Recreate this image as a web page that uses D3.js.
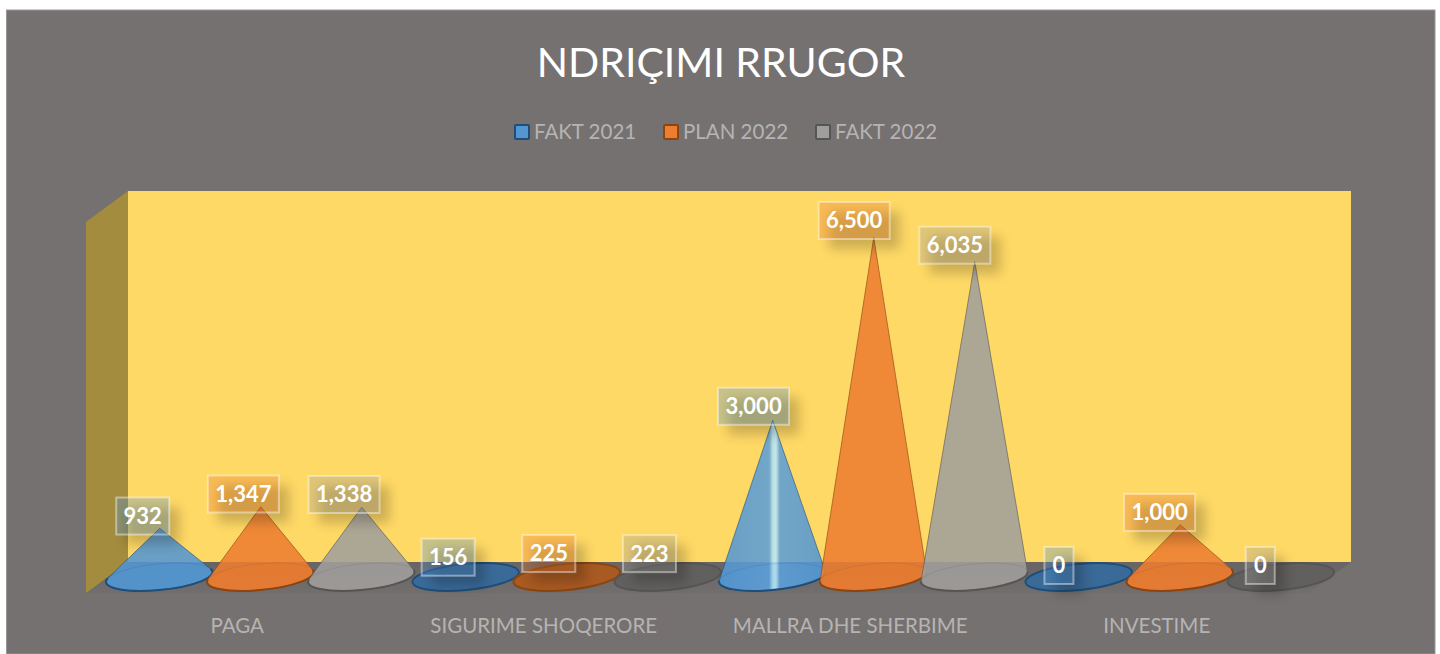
<!DOCTYPE html>
<html><head><meta charset="utf-8">
<script src="https://cdn.jsdelivr.net/npm/d3@7"></script>
<style>html,body{margin:0;background:#fff;overflow:hidden}svg{display:block}text{font-family:Lato,"Open Sans",sans-serif}</style>
</head><body><svg id="c" width="1440" height="654"></svg>
<script>
const title = "NDRIÇIMI RRUGOR";
const categories = ["PAGA","SIGURIME SHOQERORE","MALLRA DHE SHERBIME","INVESTIME"];
const seriesNames = ["FAKT 2021","PLAN 2022","FAKT 2022"];
const fakt2021 = [932,156,3000,0];
const plan2022 = [1347,225,6500,1000];
const fakt2022 = [1338,223,6035,0];
const seriesValues = [fakt2021,plan2022,fakt2022];
const fills = ["#5496D2","#ED7D31","#A09E9C"];
const strokes = ["#1F4E79","#8A4510","#555555"];
const baseFills = ["#3F7FBC","#C9651F","#73726F"];
const flatFills = ["#3A6A98","#A85A22","#62605F"];

const svg = d3.select("#c");
const defs = svg.append("defs");
const blur = defs.append("filter").attr("id","blur").attr("x","-50%").attr("y","-50%").attr("width","200%").attr("height","200%");
blur.append("feGaussianBlur").attr("stdDeviation",6);
const floorGrad = defs.append("linearGradient").attr("id","floor").attr("x1",0).attr("y1",0).attr("x2",0).attr("y2",1);
floorGrad.append("stop").attr("offset",0).attr("stop-color","#686463");
floorGrad.append("stop").attr("offset",1).attr("stop-color","#726e6d");

svg.append("rect").attr("x",6.5).attr("y",10).attr("width",1428.5).attr("height",644)
  .attr("fill","#757170").attr("stroke","#9a9796").attr("stroke-width",1);

const wall = {l:128,r:1351,t:191,b:562,dx:42,dy:31};
svg.append("polygon").attr("fill","url(#floor)")
  .attr("points",[[wall.l,wall.b],[wall.r,wall.b],[wall.r-wall.dx,wall.b+wall.dy],[wall.l-wall.dx,wall.b+wall.dy]].join(" "));
svg.append("polygon").attr("fill","#A38C3E")
  .attr("points",[[wall.l,wall.t],[wall.l,wall.b],[wall.l-wall.dx,wall.b+wall.dy],[wall.l-wall.dx,wall.t+wall.dy]].join(" "));
svg.append("rect").attr("x",wall.l).attr("y",wall.t).attr("width",wall.r-wall.l).attr("height",wall.b-wall.t).attr("fill","#FFD966");

const x0 = d3.scaleBand().domain(categories).range([107,1333]);
const x1 = d3.scaleBand().domain(seriesNames).range([0,x0.bandwidth()]).paddingOuter(0.017);
const y = d3.scaleLinear().domain([0,6500]).range([577,237.5]);
const labelBottom = d3.scaleLinear().domain([0,6500]).range([584,239]);
const labelShift = d3.scaleLinear().domain([160,1280]).range([-16.5,-20.5]);

const rx = 53.5, ry = 13, rot = -5.5, rad = rot*Math.PI/180;
const cosR = Math.cos(rad), sinR = Math.sin(rad);

const marks = [];
categories.forEach((c,ci)=>seriesNames.forEach((s,si)=>{
  marks.push({c,ci,s,si,v:seriesValues[si][ci],cx:x0(c)+x1(s)+x1.bandwidth()/2});
}));

function coneParts(cx,cy,ax,ay){
  const dx=ax-cx, dy=ay-cy;
  const lx=( dx*cosR+dy*sinR)/rx, ly=(-dx*sinR+dy*cosR)/ry;
  const dist=Math.hypot(lx,ly);
  if(dist<=1.02) return null;
  const th=Math.atan2(ly,lx), off=Math.acos(1/dist);
  const pt=a=>{const ex=rx*Math.cos(a), ey=ry*Math.sin(a);return [cx+ex*cosR-ey*sinR, cy+ex*sinR+ey*cosR];};
  const p1=pt(th+off), p2=pt(th-off);
  const arc=`A${rx},${ry} ${rot} 1 1 ${p2[0]},${p2[1]}`;
  return {body:`M${ax},${ay}L${p1[0]},${p1[1]}${arc}Z`, front:`M${p1[0]},${p1[1]}${arc}`};
}
const hasBody = d=>coneParts(d.cx,y(0),d.cx,y(d.v))!==null;
const parts = d=>coneParts(d.cx,y(0),d.cx+0.5,y(d.v));

// highlighted streak on the blue MALLRA cone
const hl = defs.append("linearGradient").attr("id","hl").attr("x1",0).attr("x2",1).attr("y1",0).attr("y2",0);
[[0,"#5496D2"],[0.47,"#5F9FD6"],[0.505,"#B0E2F5"],[0.535,"#BDE8F7"],[0.57,"#5F9FD6"],[1,"#5496D2"]]
  .forEach(([o,c])=>hl.append("stop").attr("offset",o).attr("stop-color",c));

const cones = svg.append("g").selectAll("g").data(marks).join("g");
cones.append("ellipse")
  .attr("rx",rx).attr("ry",ry)
  .attr("transform",d=>`translate(${d.cx},${y(0)}) rotate(${rot})`)
  .attr("fill",d=>hasBody(d)?baseFills[d.si]:flatFills[d.si])
  .attr("fill-opacity",d=>hasBody(d)?0.55:1)
  .attr("stroke",d=>strokes[d.si]).attr("stroke-width",d=>hasBody(d)?0:2);
const withBody = cones.filter(hasBody);
withBody.append("path").attr("d",d=>parts(d).body)
  .attr("fill",d=>d.v===3000?"url(#hl)":fills[d.si]).attr("fill-opacity",0.88)
  .attr("stroke",d=>strokes[d.si]).attr("stroke-opacity",0.6).attr("stroke-width",1);
withBody.append("ellipse")
  .attr("rx",rx).attr("ry",ry)
  .attr("transform",d=>`translate(${d.cx},${y(0)}) rotate(${rot})`)
  .attr("fill","none").attr("stroke",d=>strokes[d.si]).attr("stroke-width",1).attr("stroke-opacity",.14);
withBody.append("path").attr("d",d=>parts(d).front).attr("fill","none")
  .attr("stroke",d=>strokes[d.si]).attr("stroke-width",2);

// data labels
const fmt = d3.format(",");
const labelH = 37;
const labelW = v => v===0?29:(v<1000?53:71);
const labels = svg.append("g").selectAll("g").data(marks).join("g")
  .attr("transform",d=>`translate(${d.cx+labelShift(d.cx)},${labelBottom(d.v)-labelH/2})`);
labels.append("rect").attr("x",d=>-labelW(d.v)/2+10).attr("y",-labelH/2+10)
  .attr("width",d=>labelW(d.v)).attr("height",labelH)
  .attr("fill","#000").attr("opacity",.2).attr("filter","url(#blur)");
labels.append("rect").attr("x",d=>-labelW(d.v)/2).attr("y",-labelH/2)
  .attr("width",d=>labelW(d.v)).attr("height",labelH)
  .attr("fill",d=>fills[d.si]).attr("fill-opacity",.32)
  .attr("stroke","#fff").attr("stroke-opacity",.42).attr("stroke-width",2);
labels.append("text").attr("text-anchor","middle").attr("dy","0.36em")
  .attr("font-size",22).attr("font-weight",700).attr("fill","#fff").text(d=>fmt(d.v));

// category axis
const axisScale = x0.copy().range([84,1310]);
const axisG = svg.append("g").attr("transform","translate(0,618)")
  .call(d3.axisBottom(axisScale).tickSize(0).tickPadding(0));
axisG.select(".domain").remove();
axisG.selectAll("text").attr("font-size",20.5).attr("fill","#B6B4B3").attr("dy","0.71em")
  .style("font-family",'Lato,"Open Sans",sans-serif');

// title
svg.append("text").attr("x",721).attr("y",77).attr("text-anchor","middle")
  .attr("font-size",41).attr("fill","#fff").text(title);

// legend
const legendX = [514,663,815];
const legend = svg.append("g").selectAll("g").data(seriesNames).join("g")
  .attr("transform",(d,i)=>`translate(${legendX[i]},124)`);
legend.append("rect").attr("x",1).attr("y",1).attr("width",14).attr("height",14).attr("rx",1)
  .attr("fill",(d,i)=>fills[i]).attr("stroke",(d,i)=>strokes[i]).attr("stroke-width",2);
legend.append("text").attr("x",20).attr("y",15).attr("font-size",20.5).attr("fill","#B6B4B3").text(d=>d);
</script></body></html>
